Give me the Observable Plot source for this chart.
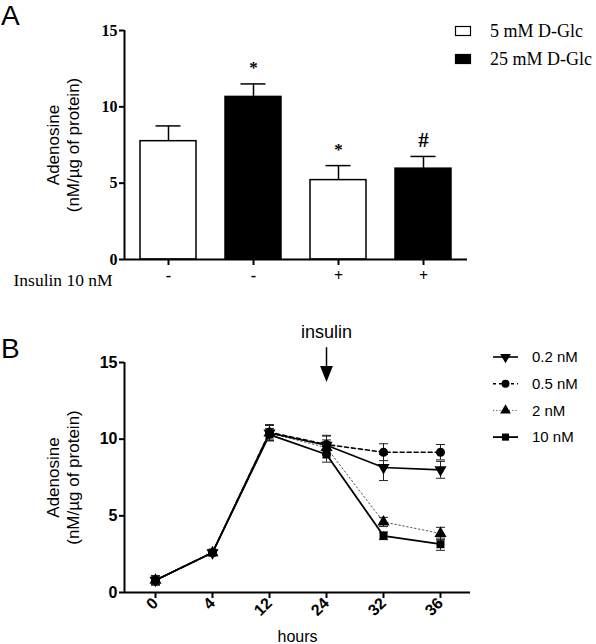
<!DOCTYPE html>
<html>
<head>
<meta charset="utf-8">
<script src="https://cdn.jsdelivr.net/npm/d3@7"></script>
<script src="https://cdn.jsdelivr.net/npm/@observablehq/plot@0.6"></script>
<style>
  body { margin: 0; background: #fff; }
  #wrap { position: relative; width: 596px; height: 644px; overflow: hidden; }
  .panel { position: absolute; left: 0; }
  .letter { position: absolute; font-family: "Liberation Sans", Arial, sans-serif; font-size: 28px; line-height: 1; }
  .leg { position: absolute; }
</style>
</head>
<body>
<div id="wrap">
  <div id="panelA" class="panel" style="top:0"></div>
  <div id="panelB" class="panel" style="top:300px"></div>
  <div class="letter" style="left:1px;top:2px">A</div>
  <div class="letter" style="left:1px;top:335px">B</div>
  <svg id="legA" class="leg" style="left:440px;top:15px" width="156" height="60"></svg>
  <svg id="legB" class="leg" style="left:485px;top:340px" width="111" height="110"></svg>
</div>
<script>
// ---------- Panel A data ----------
const barIndex = [0, 1, 2, 3];
const glucose = ["5 mM D-Glc", "25 mM D-Glc", "5 mM D-Glc", "25 mM D-Glc"];
const insulinSign = ["-", "-", "+", "+"];
const barMeans = [7.75, 10.65, 5.2, 5.95];
const barErrors = [1.0, 0.85, 0.95, 0.8];
const barMarks = ["", "*", "*", "#"];
const yTicksA = [0, 5, 10, 15];

// ---------- Panel B data ----------
const hours = ["0", "4", "12", "24", "32", "36"];
const doseNames = ["0.2 nM", "0.5 nM", "2 nM", "10 nM"];
const v02 = [0.8, 2.6, 10.4, 9.6, 8.15, 8.0];
const e02 = [0.3, 0.15, 0.5, 0.6, 0.85, 0.55];
const v05 = [0.8, 2.6, 10.45, 9.65, 9.15, 9.15];
const e05 = [0.3, 0.15, 0.5, 0.6, 0.55, 0.5];
const v2 = [0.8, 2.6, 10.4, 9.45, 4.6, 3.85];
const e2 = [0.3, 0.15, 0.5, 0.5, 0.3, 0.4];
const v10 = [0.8, 2.6, 10.3, 9.0, 3.7, 3.15];
const e10 = [0.3, 0.15, 0.4, 0.5, 0.25, 0.4];
const yTicksB = [0, 5, 10, 15];

const serif = "Liberation Serif, Times New Roman, serif";
const sans = "Liberation Sans, Arial, sans-serif";

// custom symbols
const triDown = { draw(ctx, size) {
  const y = -Math.sqrt(size / (Math.sqrt(3) * 3)), s = Math.sqrt(3);
  ctx.moveTo(0, -2 * y); ctx.lineTo(-s * y, y); ctx.lineTo(s * y, y); ctx.closePath();
}};
const arrowHead = { draw(ctx, size) {
  const r = Math.sqrt(size / Math.PI);
  ctx.moveTo(-r * 0.8, -r); ctx.lineTo(r * 0.8, -r); ctx.lineTo(0, r); ctx.closePath();
}};
const cap = { draw(ctx, size) {
  const r = Math.sqrt(size / Math.PI);
  ctx.moveTo(-r, 0); ctx.lineTo(r, 0);
}};

// ---------- Panel A ----------
const rowsA = barIndex.map(i => ({i, g: glucose[i], ins: insulinSign[i], m: barMeans[i], e: barErrors[i], top: barMeans[i] + barErrors[i], mark: barMarks[i]}));
const mA = {left: 124, right: 129, top: 30, bottom: 41, width: 596};

const plotA = Plot.plot({
  width: mA.width, height: 300,
  marginLeft: mA.left, marginRight: mA.right, marginTop: mA.top, marginBottom: mA.bottom,
  style: {fontFamily: serif, fontSize: "16px", background: "white"},
  x: {domain: barIndex, paddingInner: 0.34, paddingOuter: 0.17, axis: null},
  y: {domain: [0, 15], axis: null},
  marks: [
    Plot.ruleX(rowsA, {x: "i", y1: "m", y2: "top", stroke: "black", strokeWidth: 1.5}),
    Plot.tickY(rowsA, {x: "i", y: "top", stroke: "black", strokeWidth: 1.5, inset: 15.5}),
    Plot.barY(rowsA, {x: "i", y: "m", fill: d => d.g === "5 mM D-Glc" ? "white" : "black", stroke: "black", strokeWidth: 1.5}),
    Plot.text(rowsA, {x: "i", y: "top", text: "mark", dy: -16, lineAnchor: "middle", fontSize: d => d.mark === "#" ? 21 : 17, fontWeight: "bold", fontFamily: serif}),
    Plot.axisY({ticks: yTicksA, tickSize: 5, tickPadding: 2, strokeWidth: 2, fontWeight: "bold", fontFamily: serif, label: null}),
    Plot.axisX({tickSize: 6, tickPadding: 4, strokeWidth: 2, tickFormat: i => insulinSign[i], fontWeight: "bold", fontFamily: serif, label: null}),
    // axis lines
    Plot.ruleX([0], {x: null, dx: -(mA.width - mA.left - mA.right) / 2, strokeWidth: 2}),
    Plot.ruleY([0], {strokeWidth: 2}),
    Plot.text(["Adenosine\n(nM/µg of protein)"], {frameAnchor: "left", textAnchor: "middle", rotate: -90, dx: -62, lineHeight: 1.2, fontSize: 17, fontFamily: sans}),
    Plot.text(["Insulin 10 nM"], {frameAnchor: "bottom-left", dx: -111, dy: 21, textAnchor: "start", lineAnchor: "middle", fontSize: 17.5, fontFamily: serif})
  ]
});
document.getElementById("panelA").append(plotA);

// legend A
{
  const svg = d3.select("#legA");
  glucose.slice(0, 2).forEach((g, k) => {
    const cy = 16 + k * 28;
    svg.append("rect").attr("x", 15.5).attr("y", cy - 4.5).attr("width", 15).attr("height", 9)
      .attr("fill", k === 0 ? "white" : "black").attr("stroke", "black").attr("stroke-width", 1.2);
    svg.append("text").attr("x", 50).attr("y", cy).attr("dy", "0.35em")
      .attr("font-family", serif).attr("font-size", 18).text(g);
  });
}

// ---------- Panel B ----------
function rowsFor(name, vals, errs) {
  return hours.map((h, i) => ({h, v: vals[i], lo: vals[i] - errs[i], hi: vals[i] + errs[i], s: name}));
}
const r02 = rowsFor(doseNames[0], v02, e02);
const r05 = rowsFor(doseNames[1], v05, e05);
const r2 = rowsFor(doseNames[2], v2, e2);
const r10 = rowsFor(doseNames[3], v10, e10);
const styles = [
  {rows: r2, dash: "1.5,2.5", width: 1, color: "#555", symbol: "triangle"},
  {rows: r05, dash: "4,3", width: 1.6, color: "black", symbol: "circle"},
  {rows: r02, dash: null, width: 1.6, color: "black", symbol: triDown},
  {rows: r10, dash: null, width: 1.8, color: "black", symbol: "square"}
];
const marksB = [];
for (const st of styles) {
  marksB.push(Plot.lineY(st.rows, {x: "h", y: "v", stroke: st.color, strokeWidth: st.width, strokeDasharray: st.dash}));
}
for (const st of styles) {
  marksB.push(Plot.ruleX(st.rows, {x: "h", y1: "lo", y2: "hi", stroke: "#222", strokeWidth: 1}));
  marksB.push(Plot.dot(st.rows, {x: "h", y: "lo", symbol: cap, r: 4.5, fill: "none", stroke: "#222", strokeWidth: 1}));
  marksB.push(Plot.dot(st.rows, {x: "h", y: "hi", symbol: cap, r: 4.5, fill: "none", stroke: "#222", strokeWidth: 1}));
}
for (const st of styles) {
  marksB.push(Plot.dot(st.rows, {x: "h", y: "v", symbol: st.symbol, r: 4.5, fill: "black", stroke: "none"}));
}
const mB = {left: 124, right: 126, top: 62, bottom: 52, width: 596};

const plotB = Plot.plot({
  width: mB.width, height: 344,
  marginLeft: mB.left, marginRight: mB.right, marginTop: mB.top, marginBottom: mB.bottom,
  style: {fontFamily: sans, fontSize: "16px", background: "transparent", overflow: "visible"},
  x: {domain: hours, type: "point", padding: 0.5, axis: null},
  y: {domain: [0, 15], axis: null},
  marks: [
    ...marksB,
    Plot.axisY({ticks: yTicksB, tickSize: 5, tickPadding: 2, strokeWidth: 2, fontWeight: "bold", fontFamily: sans, label: null}),
    Plot.axisX({tickSize: 6, tickPadding: 2, strokeWidth: 2, tickRotate: -45, fontWeight: "bold", fontFamily: sans, label: null}),
    Plot.ruleX([0], {x: null, dx: -(mB.width - mB.left - mB.right) / 2, strokeWidth: 2}),
    Plot.ruleY([0], {strokeWidth: 2}),
    Plot.text(["hours"], {frameAnchor: "bottom", dy: 44, lineAnchor: "middle", fontSize: 16, fontFamily: sans}),
    Plot.text(["Adenosine\n(nM/µg of protein)"], {frameAnchor: "left", textAnchor: "middle", rotate: -90, dx: -62, lineHeight: 1.2, fontSize: 17, fontFamily: sans}),
    // insulin addition annotation at 24 h
    Plot.text(["insulin"], {x: ["24"], y: [16.6], lineAnchor: "bottom", fontSize: 18, fontFamily: sans}),
    Plot.ruleX(["24"], {y1: 15.96, y2: 14.6, stroke: "black", strokeWidth: 1.5}),
    Plot.dot(["24"], {x: d => d, y: () => 14.25, symbol: arrowHead, r: 8, fill: "black", stroke: "none"})
  ]
});
document.getElementById("panelB").append(plotB);

// legend B
{
  const svg = d3.select("#legB");
  const legStyles = [
    {name: doseNames[0], dash: null, width: 1.6, color: "black", sym: triDown},
    {name: doseNames[1], dash: "3,3", width: 1.4, color: "black", sym: d3.symbolCircle},
    {name: doseNames[2], dash: "1.2,2", width: 1, color: "#555", sym: d3.symbolTriangle},
    {name: doseNames[3], dash: null, width: 1.8, color: "black", sym: d3.symbolSquare}
  ];
  legStyles.forEach((st, k) => {
    const cy = 17 + k * 26.7;
    svg.append("line").attr("x1", 8).attr("x2", 33).attr("y1", cy).attr("y2", cy)
      .attr("stroke", st.color).attr("stroke-width", st.width).attr("stroke-dasharray", st.dash);
    svg.append("path").attr("transform", `translate(20.5,${cy})`)
      .attr("d", d3.symbol(st.sym, Math.PI * 4 * 4)()).attr("fill", "black");
    svg.append("text").attr("x", 47).attr("y", cy).attr("dy", "0.35em")
      .attr("font-family", sans).attr("font-size", 15).text(st.name);
  });
}
</script>
</body>
</html>
